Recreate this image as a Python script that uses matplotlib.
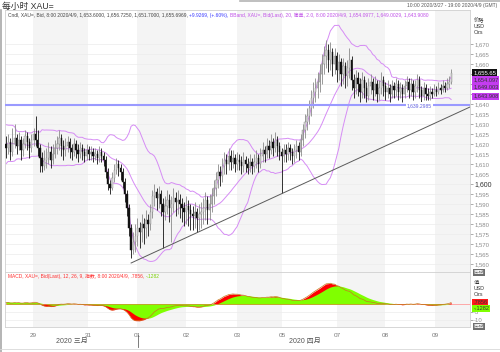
import numpy as np
import pandas as pd
import matplotlib
matplotlib.use("Agg")
import matplotlib.pyplot as plt

plt.rcParams['font.family'] = ['Liberation Sans', 'Noto Sans CJK SC']

# hourly XAU= bars, open = previous close
warmup = [1605, 1610, 1615, 1622, 1628, 1625, 1630, 1626, 1620, 1624,
          1618, 1612, 1616, 1621, 1627, 1631, 1624, 1619, 1615, 1622,
          1626, 1620, 1614, 1618, 1623, 1617, 1612, 1619, 1624, 1620]
first_open = 1620
closes = [1618, 1621, 1616, 1620, 1623, 1619, 1622, 1617, 1620, 1624,
          1621, 1618, 1622, 1625, 1622, 1618, 1613, 1609, 1612, 1613,
          1616, 1612, 1615, 1618, 1620, 1623, 1619, 1617, 1619, 1621,
          1618, 1616, 1620, 1617, 1615, 1618, 1616, 1614, 1617, 1615,
          1616, 1614, 1615, 1613, 1616, 1614, 1612, 1606, 1600, 1598,
          1603, 1607, 1610, 1608, 1606, 1601, 1595, 1588, 1578, 1567,
          1571, 1574, 1578, 1576, 1580, 1578, 1582, 1580, 1586, 1594,
          1596, 1593, 1595, 1590, 1586, 1589, 1592, 1588, 1590, 1593,
          1591, 1592, 1590, 1588, 1586, 1589, 1587, 1585, 1584, 1586,
          1583, 1585, 1586, 1588, 1592, 1587, 1590, 1594, 1598, 1602,
          1606, 1604, 1609, 1612, 1610, 1614, 1611, 1613, 1610, 1612,
          1611, 1609, 1612, 1610, 1608, 1611, 1609, 1611, 1613, 1610,
          1614, 1617, 1615, 1619, 1617, 1621, 1618, 1622, 1619, 1616,
          1614, 1617, 1615, 1618, 1616, 1614, 1617, 1619, 1616, 1622,
          1627, 1631, 1634, 1638, 1643, 1646, 1648, 1651, 1655, 1660,
          1664, 1667, 1662, 1666, 1660, 1664, 1657, 1661, 1655, 1659,
          1654, 1658, 1662, 1652, 1648, 1653, 1650, 1646, 1652, 1648,
          1644, 1649, 1651, 1647, 1650, 1645, 1648, 1652, 1649, 1646,
          1648, 1645, 1649, 1647, 1650, 1646, 1648, 1645, 1649, 1651,
          1647, 1650, 1646, 1649, 1652, 1647, 1644, 1648, 1645, 1644,
          1646, 1645, 1647, 1646, 1648, 1647, 1649, 1648, 1650, 1651,
          1655.65]
highs = [1624, 1625, 1623, 1628, 1630, 1625, 1626, 1624, 1623, 1627,
         1626, 1623, 1625, 1628, 1634, 1627, 1620, 1616, 1617, 1618,
         1621, 1619, 1620, 1622, 1624, 1627, 1625, 1622, 1623, 1624,
         1623, 1620, 1623, 1622, 1620, 1621, 1620, 1618, 1620, 1619,
         1619, 1618, 1618, 1617, 1619, 1618, 1616, 1614, 1608, 1602,
         1606, 1610, 1613, 1612, 1610, 1608, 1603, 1597, 1590, 1580,
         1576, 1580, 1583, 1581, 1585, 1583, 1587, 1585, 1590, 1597,
         1600, 1598, 1599, 1597, 1593, 1594, 1597, 1595, 1594, 1598,
         1596, 1597, 1595, 1593, 1591, 1594, 1592, 1590, 1589, 1591,
         1588, 1590, 1591, 1593, 1596, 1594, 1595, 1598, 1602, 1606,
         1610, 1609, 1613, 1616, 1615, 1618, 1617, 1617, 1615, 1616,
         1615, 1614, 1616, 1614, 1613, 1615, 1613, 1615, 1617, 1615,
         1618, 1621, 1619, 1623, 1622, 1625, 1623, 1626, 1624, 1621,
         1618, 1620, 1620, 1621, 1620, 1618, 1620, 1622, 1621, 1625,
         1630, 1635, 1638, 1642, 1647, 1651, 1653, 1656, 1660, 1665,
         1669, 1672, 1670, 1671, 1668, 1668, 1666, 1665, 1663, 1663,
         1661, 1662, 1668, 1664, 1655, 1657, 1656, 1653, 1656, 1654,
         1651, 1653, 1655, 1653, 1654, 1652, 1652, 1656, 1654, 1651,
         1652, 1650, 1652, 1651, 1653, 1652, 1651, 1650, 1652, 1654,
         1653, 1653, 1652, 1652, 1655, 1654, 1649, 1651, 1650, 1648,
         1649, 1648, 1650, 1649, 1651, 1650, 1652, 1651, 1653, 1654,
         1657.5]
lows = [1613, 1615, 1612, 1614, 1618, 1615, 1617, 1612, 1614, 1618,
        1617, 1613, 1616, 1619, 1619, 1614, 1606, 1606, 1607, 1608,
        1610, 1608, 1610, 1613, 1615, 1617, 1614, 1612, 1614, 1616,
        1613, 1612, 1614, 1613, 1611, 1613, 1612, 1611, 1612, 1612,
        1612, 1611, 1612, 1610, 1611, 1611, 1609, 1603, 1597, 1595,
        1597, 1601, 1605, 1604, 1602, 1598, 1591, 1584, 1574, 1563,
        1565, 1566, 1569, 1568, 1571, 1570, 1573, 1574, 1577, 1583,
        1589, 1587, 1588, 1584, 1568, 1582, 1585, 1581, 1571, 1586,
        1584, 1585, 1583, 1581, 1579, 1580, 1579, 1577, 1577, 1578,
        1576, 1577, 1578, 1580, 1582, 1580, 1582, 1586, 1590, 1594,
        1598, 1599, 1601, 1605, 1605, 1607, 1607, 1608, 1606, 1607,
        1607, 1605, 1606, 1606, 1605, 1606, 1605, 1606, 1608, 1606,
        1608, 1611, 1611, 1613, 1613, 1615, 1614, 1616, 1614, 1612,
        1595.5, 1611, 1611, 1612, 1612, 1610, 1611, 1613, 1612, 1614,
        1619, 1623, 1627, 1630, 1634, 1638, 1641, 1643, 1646, 1650,
        1655, 1658, 1656, 1657, 1654, 1655, 1651, 1652, 1649, 1650,
        1648, 1649, 1653, 1647, 1643, 1645, 1644, 1641, 1643, 1643,
        1641, 1642, 1645, 1642, 1644, 1641, 1642, 1645, 1644, 1642,
        1643, 1641, 1643, 1643, 1644, 1642, 1643, 1641, 1643, 1646,
        1643, 1644, 1642, 1643, 1646, 1643, 1641, 1642, 1642, 1642,
        1642, 1643, 1644, 1644, 1645, 1645, 1646, 1646, 1647, 1648,
        1650]

day_edges = [12.7, 38.7, 61.8, 84.9, 109.0, 130.2, 156.1, 178.8, 202.4]
day_labels = ['29', '31', '01', '02', '03', '05', '07', '08', '09']
shaded_days = [(12.7, 38.7), (61.8, 84.9), (109.0, 130.2), (156.1, 178.8), (202.4, 219.5)]

hline_price = 1639.2985
trend_x = [59, 218.9]
trend_y = [1560.5, 1638.5]

last_close = 1655.65
bb_last = [1654.097, 1649.003, 1643.908]
bb_text = ['1,654.097', '1,649.003', '1,643.908']
macd_last = [0.7856, -0.1282]
macd_text = ['.7856', '-.1282']

# indicators
c_all = pd.Series(warmup + closes, dtype=float)
mid = c_all.rolling(20).mean()
sd = c_all.rolling(20).std(ddof=0)
upper = (mid + 2 * sd).values[len(warmup):]
lower = (mid - 2 * sd).values[len(warmup):]
mid = mid.values[len(warmup):]
ema12 = c_all.ewm(span=12, adjust=False).mean()
ema26 = c_all.ewm(span=26, adjust=False).mean()
macd = ema12 - ema26
signal = macd.ewm(span=9, adjust=False).mean()
macd = macd.values[len(warmup):]
signal = signal.values[len(warmup):]

n = len(closes)
x = np.arange(n)
opens = np.array([first_open] + closes[:-1], dtype=float)
closes_a = np.array(closes, dtype=float)

W, H = 500, 352
fig = plt.figure(figsize=(W / 100, H / 100), dpi=100)


def fx(px):
    return px / W


def fy(py):
    return 1 - py / H


ax = fig.add_axes([fx(5), fy(272), fx(465), 262 / H])
ax2 = fig.add_axes([fx(5), fy(327), fx(465), 55 / H], sharex=ax)

for a in (ax, ax2):
    for s in a.spines.values():
        s.set_color('#d0d0d0')
        s.set_linewidth(0.6)
    for lo_, hi_ in shaded_days:
        a.axvspan(lo_, hi_, color='#f4f4f4', lw=0, zorder=0)
    a.grid(axis='y', color='#ececec', lw=0.5, zorder=0.5)
    a.set_axisbelow(True)

ax.set_xlim(-0.5, 218.9)
ax.set_ylim(1556, 1687)

# bollinger bands
bb_col = '#d68cf5'
ax.plot(x, upper, color=bb_col, lw=0.7, zorder=2)
ax.plot(x, mid, color=bb_col, lw=0.7, zorder=2)
ax.plot(x, lower, color=bb_col, lw=0.7, zorder=2)

# candles
up = closes_a >= opens
ax.vlines(x[up], np.array(lows)[up], np.array(highs)[up], color='#8a8a8a', lw=0.6, zorder=3)
ax.vlines(x[~up], np.array(lows)[~up], np.array(highs)[~up], color='#111111', lw=0.6, zorder=3)
body_lo = np.minimum(opens, closes_a)
body_h = np.maximum(np.abs(closes_a - opens), 0.4)
ax.bar(x[up], body_h[up], bottom=body_lo[up], width=0.6, color='#d8d8d8',
       edgecolor='#8a8a8a', lw=0.3, zorder=4)
ax.bar(x[~up], body_h[~up], bottom=body_lo[~up], width=0.6, color='#111111',
       edgecolor='#111111', lw=0.3, zorder=4)

# drawn lines
ax.axhline(hline_price, color='#9a9aff', lw=1.5, zorder=5)
ax.text(195, hline_price, '1,639.2985', fontsize=3.6, color='#6060e0', ha='center',
        va='center', zorder=6, bbox=dict(boxstyle='square,pad=0.15', fc='white', ec='none'))
ax.plot(trend_x, trend_y, color='#5a5a5a', lw=0.7, zorder=5)

# right price axis (labels under the value boxes are left blank)
ticks = list(range(1560, 1675, 5))
hidden = {1645, 1650, 1655}
ax.yaxis.tick_right()
ax.set_yticks(ticks, labels=['' if t in hidden else f"{t:,}" for t in ticks])
ax.tick_params(axis='y', labelsize=4.3, colors='#8c8c8c', length=2, width=0.5, pad=1)
for lbl in ax.get_yticklabels():
    if lbl.get_text() == '1,600':
        lbl.set_color('#333333')
        lbl.set_fontsize(5)
ax.tick_params(axis='x', bottom=False, labelbottom=False)

yt = ax.get_yaxis_transform()
ax.text(1.007, last_close, '1,655.65', transform=yt, fontsize=4.3, color='white', va='center',
        ha='left', zorder=10, clip_on=False,
        bbox=dict(boxstyle='square,pad=0.15', fc='#111111', ec='none'))
prev = last_close
for v, t in zip(bb_last, bb_text):
    pos = min(v, prev - 3.5)
    ax.text(1.007, pos, t, transform=yt, fontsize=4.1, color='#333333', va='center', ha='left',
            zorder=10, clip_on=False,
            bbox=dict(boxstyle='square,pad=0.15', fc='#c43cf0', ec='none'))
    prev = pos

# MACD panel
ax2.set_ylim(-14.4, 20)
ax2.fill_between(x, 0, macd, color='#ff0000', lw=0, zorder=2)
ax2.fill_between(x, 0, signal, color='#80ff00', lw=0, zorder=3)
ax2.plot(x, macd, color='#c8781e', lw=0.5, zorder=4)
ax2.axhline(0, color='#ff9c9c', lw=0.6, zorder=1.5)
ax2.yaxis.tick_right()
ax2.set_yticks([-10, -5], labels=['-10', '-5'])
ax2.tick_params(axis='y', labelsize=4.3, colors='#8c8c8c', length=2, width=0.5, pad=1)
ax2.set_xticks(day_edges, labels=day_labels)
ax2.tick_params(axis='x', labelsize=4.6, colors='#7a7a7a', length=0, pad=4)

yt2 = ax2.get_yaxis_transform()
box_cols = ['#ff1a1a', '#80ff00']
prev = None
for v, t, bc in zip(macd_last, macd_text, box_cols):
    pos = v if prev is None else min(v, prev - 3.5)
    ax2.text(1.007, pos, t, transform=yt2, fontsize=4.1, color='#333333', va='center',
             ha='left', zorder=10, clip_on=False,
             bbox=dict(boxstyle='square,pad=0.15', fc=bc, ec='none'))
    prev = pos

# header texts
fig.text(fx(2), fy(6), '每小时 XAU=', fontsize=6.3, color='#333333', va='center', ha='left')
fig.text(fx(497), fy(6), '10:00 2020/3/27 - 19:00 2020/4/9 (GMT)', fontsize=3.6,
         color='#555555', va='center', ha='right')
fig.add_artist(plt.Line2D([fx(240), 1], [fy(1), fy(1)], color='#b4b4b4', lw=1.2))
fig.add_artist(plt.Line2D([fx(1), fx(1)], [fy(10), 0], color='#a8a8a8', lw=1.2))
fig.add_artist(plt.Line2D([0, 1], [fy(349), fy(349)], color='#d8d8d8', lw=0.6))

t1 = fig.text(fx(8), fy(15), 'Cndl, XAU=, Bid, 8:00 2020/4/9, 1,653.6000, 1,656.7250, 1,651.7000, 1,655.6969, ',
              fontsize=3.5, color='#444444', va='center', ha='left')
t2 = fig.text(0, 0, '+9.9269, (+.60%), ', fontsize=3.5, color='#3a3aff', va='center', ha='left')
t3 = fig.text(0, 0, 'BBand, XAU=, Bid(Last), 20, 简单, 2.0, 8:00 2020/4/9, 1,654.0977, 1,649.0029, 1,643.9080',
              fontsize=3.5, color='#c050e8', va='center', ha='left')
fig.canvas.draw()
r = fig.canvas.get_renderer()
bb1 = t1.get_window_extent(r)
t2.set_position((bb1.x1 / W, fy(15)))
bb2 = t2.get_window_extent(r)
t3.set_position((bb2.x1 / W, fy(15)))

m1 = fig.text(fx(8), fy(276.5), 'MACD, XAU=, Bid(Last), 12, 26, 9, 指数, 8:00 2020/4/9, .7856, ',
              fontsize=3.5, color='#ff3030', va='center', ha='left')
m2 = fig.text(0, 0, '-.1282', fontsize=3.5, color='#7ad000', va='center', ha='left')
fig.canvas.draw()
bm = m1.get_window_extent(fig.canvas.get_renderer())
m2.set_position((bm.x1 / W, fy(276.5)))

# right headers
for txt, py in [('价格', 20), ('USD', 26), ('Ozs', 32), ('值', 283), ('USD', 289), ('Ozs', 294)]:
    fig.text(fx(474), fy(py), txt, fontsize=3.8, color='#333333', va='center', ha='left')
for py in (272.5, 326.5):
    fig.text(fx(474), fy(py), '西函', fontsize=3.8, color='white', va='center', ha='left',
             bbox=dict(boxstyle='square,pad=0.15', fc='#6e6e6e', ec='none'))

# month labels
fig.text(fx(72), fy(341), '2020 三月', fontsize=5, color='#555555', va='center', ha='center')
fig.text(fx(305), fy(341), '2020 四月', fontsize=5, color='#555555', va='center', ha='center')
fig.add_artist(plt.Line2D([fx(137.5), fx(137.5)], [fy(335), fy(347)], color='#666666', lw=0.6))

fig.savefig('out.png', dpi=100)
